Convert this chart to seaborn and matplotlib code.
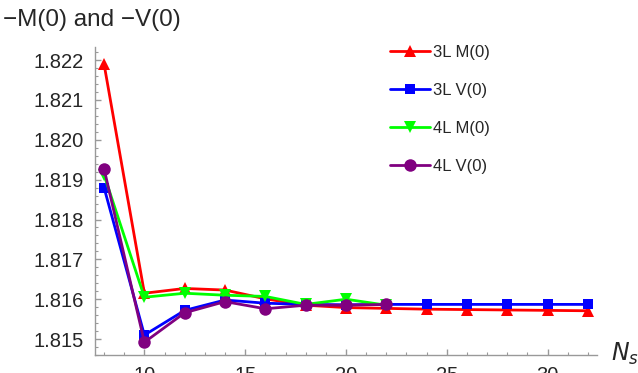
import numpy as np
import pandas as pd

import matplotlib
matplotlib.use("Agg")
import matplotlib.pyplot as plt
import seaborn as sns
from matplotlib.ticker import MultipleLocator, FormatStrFormatter

# data
ns_3l = [8, 10, 12, 14, 16, 18, 20, 22, 24, 26, 28, 30, 32]
m0_3l = [1.82190, 1.81615, 1.81627, 1.81623, 1.81601, 1.81585, 1.81579, 1.81577,
         1.81575, 1.81574, 1.81573, 1.81572, 1.81571]
v0_3l = [1.81880, 1.81510, 1.81572, 1.81598, 1.81590, 1.81587, 1.81586, 1.81587,
         1.81587, 1.81587, 1.81587, 1.81587, 1.81587]
ns_4l = [8, 10, 12, 14, 16, 18, 20, 22]
m0_4l = [1.81912, 1.81605, 1.81615, 1.81610, 1.81607, 1.81587, 1.81600, 1.81585]
v0_4l = [1.81927, 1.81492, 1.81566, 1.81594, 1.81576, 1.81585, 1.81585, 1.81587]

series = [
    ("3L M(0)", ns_3l, m0_3l, "#ff0000", "^", 8),
    ("3L V(0)", ns_3l, v0_3l, "#0000ff", "s", 6.5),
    ("4L M(0)", ns_4l, m0_4l, "#00ff00", "v", 8),
    ("4L V(0)", ns_4l, v0_4l, "#800080", "o", 9),
]

sns.set_style("white")
plt.rcParams["font.family"] = ["Liberation Sans", "DejaVu Sans"]

fig = plt.figure(figsize=(6.38, 3.73), dpi=100)
ax = fig.add_axes([95 / 638, 18 / 373, 502 / 638, 308 / 373])

for name, x, y, col, mk, ms in series:
    df = pd.DataFrame({"N": x, "val": y})
    sns.lineplot(data=df, x="N", y="val", ax=ax, color=col, marker=mk,
                 markersize=ms, markeredgewidth=0, linewidth=2, label=name,
                 clip_on=False)

ax.set_xlim(7.55, 32.45)
ax.set_ylim(1.8146, 1.82233)
ax.xaxis.set_major_locator(MultipleLocator(5))
ax.xaxis.set_minor_locator(MultipleLocator(1))
ax.yaxis.set_major_locator(MultipleLocator(0.001))
ax.yaxis.set_minor_locator(MultipleLocator(0.0002))
ax.yaxis.set_major_formatter(FormatStrFormatter("%.3f"))
ax.set_xlabel("")
ax.set_ylabel("")

for s in ["top", "right"]:
    ax.spines[s].set_visible(False)
for s in ["left", "bottom"]:
    ax.spines[s].set_color("#999999")
    ax.spines[s].set_linewidth(1)

ax.tick_params(which="both", direction="in", color="#999999", labelsize=14.5,
               left=True, bottom=True)
ax.tick_params(which="major", length=4, width=1, pad=8)
ax.tick_params(which="minor", length=2.5, width=0.8)

leg = ax.legend(loc="upper left", bbox_to_anchor=(0.558, 1.055), frameon=False,
                fontsize=12, handlelength=2.4, labelspacing=1.38,
                handletextpad=0.2)

fig.text(0.005, 0.975, "\u2212M(0) and \u2212V(0)", fontsize=17.5, ha="left", va="top")
fig.text(0.958, 0.05, "$N_s$", fontsize=17, ha="left", va="center")

fig.savefig("out.png", dpi=100)
